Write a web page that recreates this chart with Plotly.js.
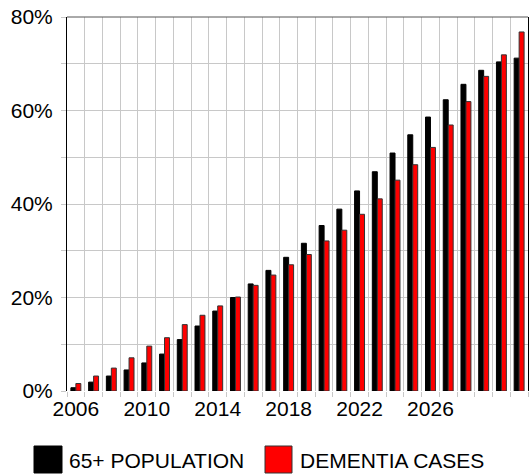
<!DOCTYPE html>
<html>
<head>
<meta charset="utf-8">
<script src="https://cdn.plot.ly/plotly-3.0.1.min.js"></script>
<style>html,body{margin:0;padding:0;background:#fff;}#chart{width:531px;height:475px;}</style>
</head>
<body>
<div id="chart"></div>
<script>
const years = [2006,2007,2008,2009,2010,2011,2012,2013,2014,2015,2016,2017,2018,2019,2020,2021,2022,2023,2024,2025,2026,2027,2028,2029,2030,2031];
const population65 = [0.7,1.9,3.2,4.5,6.0,7.9,11.0,13.9,17.1,20.0,22.9,25.8,28.6,31.6,35.4,38.9,42.8,46.9,50.9,54.8,58.6,62.3,65.6,68.6,70.4,71.2];
const dementiaCases = [1.6,3.2,4.9,7.1,9.6,11.4,14.2,16.2,18.2,20.1,22.6,24.8,27.0,29.2,32.1,34.4,37.8,41.1,45.1,48.4,52.1,56.9,61.9,67.3,71.9,76.8];
const seriesNames = ['65+ POPULATION', 'DEMENTIA CASES'];
const xTickLabels = [2006, 2010, 2014, 2018, 2022, 2026];

const W = 531, H = 475;
const M = {l: 67, r: 3, t: 17, b: 84};
const pw = W - M.l - M.r, ph = H - M.t - M.b;
const px = x => (x - M.l) / pw;
const py = y => (H - M.b - y) / ph;

const FONT = '"Liberation Sans", Arial, sans-serif';
const FS = 21;

const traces = [
  {type: 'bar', name: seriesNames[0], x: years, y: population65.map(v => v / 100),
   marker: {color: '#000000', line: {color: '#000000', width: 1}}, showlegend: false, hoverinfo: 'x+y'},
  {type: 'bar', name: seriesNames[1], x: years, y: dementiaCases.map(v => v / 100),
   marker: {color: '#ff0000', line: {color: '#333333', width: 1}}, showlegend: false, hoverinfo: 'x+y'}
];

const layout = {
  width: W, height: H,
  margin: M,
  paper_bgcolor: '#ffffff', plot_bgcolor: '#ffffff',
  font: {family: FONT, size: FS, color: '#000000'},
  barmode: 'group',
  bargap: 0.44,
  bargroupgap: 0,
  showlegend: false,
  xaxis: {
    type: 'linear',
    range: [years[0] - 0.5, years[years.length - 1] + 0.5],
    tickmode: 'array', tickvals: xTickLabels, ticktext: xTickLabels.map(String),
    ticks: '', showgrid: false, zeroline: false, showline: false,
    ticklabelstandoff: 3,
    tickfont: {family: FONT, size: FS, color: '#000'},
    minor: {tickmode: 'linear', tick0: years[0] - 0.5, dtick: 1, ticks: 'outside', ticklen: 5,
            tickcolor: '#c8c8c8', showgrid: true, gridcolor: '#c8c8c8', gridwidth: 1}
  },
  yaxis: {
    range: [0, 0.8], dtick: 0.2, tick0: 0, tickformat: '.0%',
    ticks: 'outside', ticklen: 5, tickcolor: '#c8c8c8',
    showgrid: true, gridcolor: '#c8c8c8', gridwidth: 1,
    zeroline: false, showline: true, mirror: true, linecolor: '#000000', linewidth: 1,
    ticklabelstandoff: 4,
    tickfont: {family: FONT, size: FS, color: '#000'},
    minor: {dtick: 0.1, ticks: 'outside', ticklen: 5, tickcolor: '#c8c8c8',
            showgrid: true, gridcolor: '#c8c8c8', gridwidth: 1}
  },
  shapes: [
    {type: 'line', xref: 'paper', yref: 'paper', x0: 0, x1: 1, y0: 1, y1: 1,
     line: {color: '#555555', width: 1}},
    {type: 'rect', xref: 'paper', yref: 'paper', x0: px(34), x1: px(62), y0: py(446), y1: py(473),
     fillcolor: '#000000', line: {color: '#000000', width: 1}},
    {type: 'rect', xref: 'paper', yref: 'paper', x0: px(265), x1: px(292), y0: py(446), y1: py(473),
     fillcolor: '#ff0000', line: {color: '#333333', width: 1}}
  ],
  annotations: [
    {xref: 'paper', yref: 'paper', x: px(67), y: py(460), xanchor: 'left', yanchor: 'middle',
     text: seriesNames[0], showarrow: false, font: {family: FONT, size: FS, color: '#000'}},
    {xref: 'paper', yref: 'paper', x: px(298), y: py(460), xanchor: 'left', yanchor: 'middle',
     text: seriesNames[1], showarrow: false, font: {family: FONT, size: FS, color: '#000'}}
  ]
};

Plotly.newPlot('chart', traces, layout, {displayModeBar: false, staticPlot: true});
</script>
</body>
</html>
